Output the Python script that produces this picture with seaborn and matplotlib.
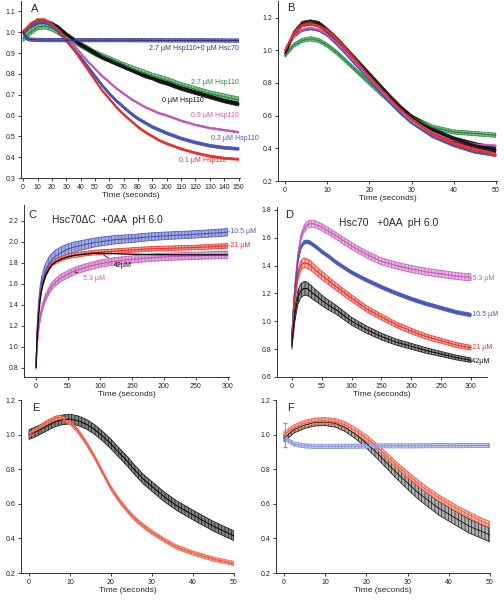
import numpy as np
import pandas as pd
import matplotlib
matplotlib.use('Agg')
import matplotlib.pyplot as plt
import seaborn as sns

sns.set_style('ticks')
plt.rcParams['font.family'] = ['Liberation Sans', 'DejaVu Sans']
plt.rcParams['hatch.linewidth'] = 0.5

# ---- panel A ----
a_t = [0, 5, 10, 15, 20, 25, 30, 35, 40, 45, 50, 55, 60, 65, 70, 75, 80, 85, 90, 95,
       100, 110, 120, 130, 140, 150]
a_flat_t = [0, 1, 2, 3, 5, 10, 20, 30, 50, 75, 100, 125, 150]
a_flat = [1.0, 0.99, 0.975, 0.968, 0.965, 0.963, 0.962, 0.962, 0.962, 0.962, 0.961, 0.961, 0.96]
a_red = [1.0, 1.04, 1.06, 1.06, 1.04, 1.01, 0.97, 0.92, 0.87, 0.82, 0.77, 0.72, 0.68, 0.64,
         0.605, 0.575, 0.545, 0.52, 0.50, 0.48, 0.465, 0.44, 0.42, 0.405, 0.395, 0.39]
a_blue = [1.0, 1.03, 1.05, 1.05, 1.03, 1.0, 0.96, 0.92, 0.88, 0.835, 0.79, 0.745, 0.705,
          0.67, 0.64, 0.61, 0.585, 0.565, 0.545, 0.53, 0.515, 0.49, 0.47, 0.455, 0.445, 0.44]
a_pink = [1.0, 1.03, 1.05, 1.05, 1.03, 1.0, 0.97, 0.94, 0.90, 0.86, 0.825, 0.79, 0.76, 0.73,
          0.705, 0.68, 0.66, 0.64, 0.625, 0.61, 0.60, 0.575, 0.555, 0.54, 0.53, 0.52]
a_black = [1.0, 1.03, 1.05, 1.05, 1.04, 1.02, 0.99, 0.965, 0.94, 0.92, 0.90, 0.88, 0.865,
           0.85, 0.835, 0.82, 0.805, 0.79, 0.78, 0.765, 0.755, 0.73, 0.71, 0.69, 0.67, 0.655]
a_green = [0.97, 1.0, 1.025, 1.03, 1.02, 1.0, 0.98, 0.96, 0.94, 0.92, 0.90, 0.885, 0.87,
           0.855, 0.84, 0.828, 0.815, 0.803, 0.79, 0.78, 0.77, 0.745, 0.725, 0.705, 0.69, 0.675]

# ---- panel B ----
b_t = [0, 2, 4, 6, 8, 10, 12.5, 15, 17.5, 20, 22.5, 25, 27.5, 30, 35, 40, 45, 50]
b_black = [0.98, 1.10, 1.16, 1.17, 1.16, 1.12, 1.06, 0.99, 0.92, 0.85, 0.78, 0.71, 0.645,
           0.59, 0.51, 0.455, 0.42, 0.39]
b_red = [1.0, 1.10, 1.155, 1.165, 1.15, 1.12, 1.06, 0.99, 0.915, 0.84, 0.77, 0.70, 0.635,
         0.58, 0.49, 0.43, 0.39, 0.36]
b_blue = [1.0, 1.08, 1.12, 1.13, 1.12, 1.09, 1.03, 0.96, 0.89, 0.82, 0.745, 0.675, 0.61,
          0.555, 0.47, 0.415, 0.375, 0.355]
b_pink = [1.0, 1.08, 1.125, 1.135, 1.125, 1.095, 1.04, 0.97, 0.90, 0.83, 0.76, 0.69, 0.63,
          0.575, 0.50, 0.45, 0.425, 0.415]
b_green = [0.97, 1.03, 1.06, 1.07, 1.06, 1.03, 0.98, 0.92, 0.86, 0.80, 0.74, 0.685, 0.635,
           0.59, 0.53, 0.50, 0.49, 0.48]

# ---- panel C ----
c_t = [0, 1, 2, 4, 6, 8, 10, 15, 20, 25, 30, 40, 50, 60, 75, 90, 100, 125, 150, 175, 200,
       250, 300]
c_blue = [0.82, 1.05, 1.2, 1.38, 1.5, 1.58, 1.64, 1.73, 1.79, 1.83, 1.86, 1.9, 1.93, 1.95,
          1.97, 1.99, 2.0, 2.02, 2.03, 2.045, 2.055, 2.07, 2.09]
c_blue_err = [0.02, 0.04, 0.05, 0.06, 0.065, 0.065, 0.065, 0.065, 0.065, 0.06, 0.058, 0.055,
              0.05, 0.048, 0.045, 0.043, 0.042, 0.04, 0.038, 0.037, 0.036, 0.035, 0.035]
c_red = [0.82, 1.02, 1.16, 1.34, 1.46, 1.54, 1.6, 1.69, 1.75, 1.79, 1.81, 1.84, 1.86, 1.87,
         1.885, 1.895, 1.9, 1.91, 1.92, 1.93, 1.935, 1.945, 1.96]
c_black = [0.80, 1.0, 1.13, 1.3, 1.43, 1.52, 1.58, 1.68, 1.74, 1.78, 1.805, 1.835, 1.855,
           1.87, 1.88, 1.89, 1.89, 1.885, 1.88, 1.878, 1.876, 1.875, 1.875]
c_pink = [0.82, 0.95, 1.04, 1.17, 1.26, 1.33, 1.38, 1.47, 1.53, 1.58, 1.61, 1.66, 1.69, 1.72,
          1.75, 1.775, 1.79, 1.815, 1.83, 1.845, 1.855, 1.865, 1.875]

# ---- panel D ----
d_t = [0, 2, 5, 10, 15, 20, 25, 30, 35, 40, 50, 60, 75, 100, 125, 150, 175, 200, 225, 250,
       275, 300]
d_pink = [0.9, 1.05, 1.25, 1.47, 1.6, 1.66, 1.69, 1.70, 1.70, 1.695, 1.675, 1.65, 1.61, 1.54,
          1.48, 1.43, 1.40, 1.375, 1.355, 1.34, 1.325, 1.315]
d_blue = [0.88, 1.05, 1.23, 1.43, 1.53, 1.565, 1.57, 1.565, 1.55, 1.535, 1.50, 1.47, 1.42,
          1.35, 1.295, 1.245, 1.2, 1.16, 1.125, 1.095, 1.065, 1.045]
d_red = [0.85, 1.0, 1.17, 1.33, 1.40, 1.42, 1.415, 1.405, 1.385, 1.365, 1.33, 1.295, 1.245,
         1.165, 1.09, 1.03, 0.975, 0.93, 0.89, 0.86, 0.83, 0.81]
d_red_err = [0.03, 0.03, 0.032, 0.034, 0.035, 0.035, 0.034, 0.033, 0.032, 0.031, 0.03, 0.028,
             0.026, 0.024, 0.022, 0.021, 0.02, 0.02, 0.019, 0.018, 0.018, 0.017]
d_black = [0.85, 0.93, 1.05, 1.17, 1.22, 1.235, 1.235, 1.22, 1.2, 1.185, 1.15, 1.12, 1.08,
           1.0, 0.94, 0.89, 0.85, 0.82, 0.79, 0.765, 0.74, 0.72]
d_black_err = [0.05, 0.05, 0.05, 0.05, 0.05, 0.05, 0.048, 0.046, 0.044, 0.042, 0.038, 0.035,
               0.032, 0.028, 0.026, 0.024, 0.022, 0.021, 0.02, 0.018, 0.017, 0.016]

# ---- panel E ----
e_t = [0, 2, 4, 6, 7, 8, 10, 12, 14, 16, 18, 20, 22, 24, 26, 28, 30, 33, 36, 40, 45, 50]
e_red = [1.0, 1.03, 1.065, 1.09, 1.10, 1.095, 1.07, 1.02, 0.95, 0.87, 0.78, 0.69, 0.62,
         0.56, 0.51, 0.47, 0.435, 0.39, 0.35, 0.315, 0.28, 0.255]
e_black = [1.0, 1.02, 1.045, 1.07, 1.078, 1.085, 1.09, 1.08, 1.06, 1.03, 0.99, 0.945, 0.895,
           0.845, 0.79, 0.74, 0.70, 0.64, 0.59, 0.535, 0.47, 0.415]

# ---- panel F ----
f_t = [0, 2.5, 5, 7.5, 10, 12.5, 15, 17.5, 20, 22.5, 25, 27.5, 30, 32.5, 35, 37.5, 40,
       42.5, 45, 47.5, 50]
f_blue = [0.98, 0.945, 0.935, 0.932, 0.932, 0.932, 0.933, 0.933, 0.934, 0.934, 0.935, 0.935,
          0.935, 0.935, 0.936, 0.936, 0.936, 0.936, 0.937, 0.937, 0.937]
f_red = [1.0, 1.04, 1.065, 1.078, 1.08, 1.075, 1.055, 1.02, 0.98, 0.93, 0.875, 0.82, 0.77,
         0.72, 0.675, 0.635, 0.60, 0.565, 0.535, 0.505, 0.48]
f_black = [0.98, 1.03, 1.055, 1.07, 1.072, 1.065, 1.04, 1.0, 0.95, 0.895, 0.835, 0.775,
           0.72, 0.665, 0.62, 0.575, 0.54, 0.505, 0.47, 0.445, 0.42]
f_black_err = [0.02, 0.02, 0.02, 0.02, 0.02, 0.022, 0.024, 0.026, 0.028, 0.03, 0.032, 0.034,
               0.036, 0.037, 0.038, 0.039, 0.04, 0.04, 0.04, 0.04, 0.04]

RED = '#e8302a'
BLUE = '#4756b5'
NAVY = '#35358f'
PINK = '#c259b5'
GREEN = '#2f8a45'
BLACK = '#111111'
SALMON = '#ec5a40'
LBLUE = '#7d8ad0'


def band(ax, t, y, err, color, lw=1.2, fill=None, hatch='|||||'):
    t = np.asarray(t, float)
    y = np.asarray(y, float)
    err = np.asarray(err, float)
    if np.any(err > 0):
        ax.fill_between(t, y - err, y + err, facecolor=fill or color, edgecolor=color,
                        hatch=hatch, linewidth=0.6, alpha=0.9, zorder=2)
    sns.lineplot(x=t, y=y, ax=ax, color=color, lw=lw, zorder=3)


def style(ax, xlim, ylim, xt, yt, letter, lx=0.045, ly=0.955):
    ax.set_xlim(*xlim)
    ax.set_ylim(*ylim)
    ax.set_xticks(xt)
    ax.set_yticks(yt)
    ax.set_yticklabels([f'{v:.1f}' for v in yt])
    ax.tick_params(labelsize=5, length=2.5, width=0.6, pad=1.5, colors='#222222')
    for s in ['top', 'right']:
        ax.spines[s].set_visible(False)
    for s in ['left', 'bottom']:
        ax.spines[s].set_linewidth(0.7)
        ax.spines[s].set_color('#333333')
    ax.set_xlabel('Time (seconds)', fontsize=6, labelpad=1)
    ax.set_ylabel('')
    ax.text(lx, ly, letter, transform=ax.transAxes, fontsize=8, va='center', ha='left')


fig = plt.figure(figsize=(5.04, 6.0), dpi=100)
axA = fig.add_axes([0.0417, 0.7033, 0.4345, 0.295])
axB = fig.add_axes([0.5516, 0.6983, 0.4345, 0.2997])
axC = fig.add_axes([0.0476, 0.3717, 0.4067, 0.2867])
axD = fig.add_axes([0.5496, 0.3717, 0.4167, 0.2833])
axE = fig.add_axes([0.0417, 0.045, 0.4226, 0.2883])
axF = fig.add_axes([0.5476, 0.045, 0.4246, 0.2883])

# A
band(axA, a_t, a_green, 0.014, GREEN, lw=1.0, fill='#7fbf8c')
band(axA, a_t, a_black, 0.009, BLACK, lw=1.6)
band(axA, a_t, a_pink, 0.004, PINK, lw=1.3)
band(axA, a_t, a_blue, 0.007, BLUE, lw=1.6)
band(axA, a_t, a_red, 0.005, RED, lw=1.3)
band(axA, a_flat_t, a_flat, 0.008, NAVY, lw=1.0, fill='#8c8cc8')
style(axA, (-1.5, 151), (0.3, 1.15), range(0, 151, 10), np.arange(0.3, 1.11, 0.1), 'A')
lab = dict(fontsize=5, va='center')
axA.text(150, 0.922, '2.7 \u00b5M Hsp110+0 \u00b5M Hsc70', color=NAVY, ha='right', **lab)
axA.text(150, 0.758, '2.7 \u00b5M Hsp110', color=GREEN, ha='right', **lab)
axA.text(126, 0.673, '0 \u00b5M Hsp110', color=BLACK, ha='right', **lab)
axA.text(150, 0.598, '0.9 \u00b5M Hsp110', color=PINK, ha='right', **lab)
axA.text(131, 0.49, '0.3 \u00b5M Hsp110', color=BLUE, ha='left', clip_on=False, **lab)
axA.text(142, 0.383, '0.1 \u00b5M Hsp110', color=RED, ha='right', **lab)

# B
band(axB, b_t, b_green, 0.013, GREEN, lw=1.0, fill='#7fbf8c')
band(axB, b_t, b_blue, 0.005, BLUE, lw=1.2)
band(axB, b_t, b_pink, 0.006, PINK, lw=1.2)
band(axB, b_t, b_black, 0.016, BLACK, lw=1.2)
band(axB, b_t, b_red, 0.01, RED, lw=1.4)
style(axB, (-1.7, 50.3), (0.2, 1.3), range(0, 51, 10), np.arange(0.2, 1.21, 0.2), 'B',
      lx=0.04, ly=0.96)

# C
band(axC, c_t, c_blue, c_blue_err, BLUE, lw=0.8, fill='#9aa3dc')
band(axC, c_t, c_pink, 0.035, PINK, lw=0.8, fill='#d9a0d2')
band(axC, c_t, c_red, 0.022, RED, lw=0.8, fill='#f19a8e')
band(axC, c_t, c_black, 0.0, BLACK, lw=1.0)
style(axC, (-19, 302), (0.71, 2.35), range(0, 301, 50), np.arange(0.8, 2.21, 0.2), 'C',
      lx=0.02, ly=0.94)
axC.text(25, 2.21, 'Hsc70\u0394C  +0AA  pH 6.0', fontsize=7.5, va='center', ha='left')
axC.text(301, 2.095, '-10.5 \u00b5M', color=BLUE, ha='left', clip_on=False, **lab)
axC.text(301, 1.968, '-21 \u00b5M', color=RED, ha='left', clip_on=False, **lab)
axC.annotate('42\u00b5M', xy=(102, 1.885), xytext=(121, 1.77), color=BLACK, fontsize=5,
             va='center', ha='left', arrowprops=dict(arrowstyle='-', color=BLACK, lw=0.6))
axC.annotate('5.3 \u00b5M', xy=(57, 1.72), xytext=(74, 1.645), color=PINK, fontsize=5,
             va='center', ha='left', arrowprops=dict(arrowstyle='-', color=BLACK, lw=0.6))

# D
band(axD, d_t, d_pink, 0.025, PINK, lw=0.8, fill='#e3b2dc')
band(axD, d_t, d_blue, 0.013, BLUE, lw=1.0)
band(axD, d_t, d_red, d_red_err, RED, lw=0.8, fill='#f4a79b')
band(axD, d_t, d_black, d_black_err, BLACK, lw=0.8, fill='#888888')
style(axD, (-25, 327), (0.6, 1.82), range(0, 301, 50), np.arange(0.6, 1.81, 0.2), 'D',
      lx=0.038, ly=0.95)
axD.text(79, 1.708, 'Hsc70   +0AA  pH 6.0', fontsize=7.5, va='center', ha='left')
axD.text(298, 1.31, '-5.3 \u00b5M', color=PINK, ha='left', **lab)
axD.text(298, 1.047, '-10.5 \u00b5M', color=BLUE, ha='left', **lab)
axD.text(298, 0.813, '-21 \u00b5M', color=RED, ha='left', **lab)
axD.text(298, 0.708, '-42\u00b5M', color=BLACK, ha='left', **lab)

# E
band(axE, e_t, e_black, 0.028, BLACK, lw=0.8, fill='#777777')
band(axE, e_t, e_red, 0.012, SALMON, lw=0.8, fill='#f4a08c')
style(axE, (-1.95, 50), (0.2, 1.2), range(0, 51, 10), np.arange(0.2, 1.21, 0.2), 'E',
      lx=0.05, ly=0.954)

# F
band(axF, f_t, f_black, f_black_err, BLACK, lw=0.6, fill='#aaaaaa')
band(axF, f_t, f_red, 0.018, SALMON, lw=0.6, fill='#f6b0a0')
band(axF, f_t, f_blue, 0.012, LBLUE, lw=0.6, fill='#c4cbee')
axF.errorbar([0.3], [0.98], yerr=[[0.05], [0.09]], color=LBLUE, lw=0.6, capsize=1.5, zorder=4)
style(axF, (-1.94, 50), (0.2, 1.2), range(0, 51, 10), np.arange(0.2, 1.21, 0.2), 'F',
      lx=0.05, ly=0.954)

fig.savefig('out.png', dpi=100)
